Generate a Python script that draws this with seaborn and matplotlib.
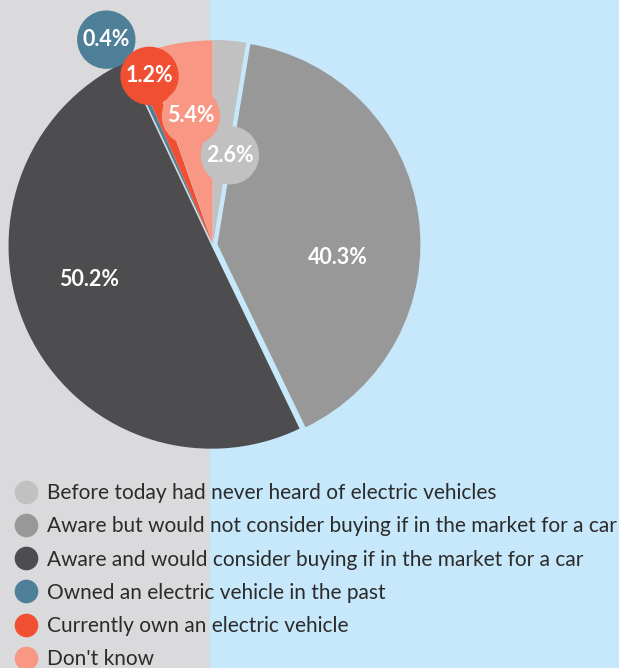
import numpy as np
import matplotlib
matplotlib.use("Agg")
import matplotlib.pyplot as plt
import seaborn as sns
from matplotlib.patches import Rectangle, Circle
from matplotlib.lines import Line2D

# data
categories = [
    "Before today had never heard of electric vehicles",
    "Aware but would not consider buying if in the market for a car",
    "Aware and would consider buying if in the market for a car",
    "Owned an electric vehicle in the past",
    "Currently own an electric vehicle",
    "Don't know",
]
shares = [2.6, 40.3, 50.2, 0.4, 1.2, 5.4]
labels = ["2.6%", "40.3%", "50.2%", "0.4%", "1.2%", "5.4%"]
colors = ["#c1c1c1", "#989898", "#4d4d4f", "#4e7f99", "#f04f32", "#f79784"]

# label placement: radius (pie units), angle nudge from wedge middle, badge or plain
label_r = [0.45, 0.62, 0.635, 1.14, 0.89, 0.645]
label_dang = [-6, -14, -10, 3, -1, 0]
badge = [True, False, False, True, True, True]
explode = [0.01, 0.022, 0.008, 0.008, 0.008, 0.008]

sns.set_theme(style="white")
plt.rcParams["font.family"] = ["Lato", "DejaVu Sans"]

W, H = 619, 668
fig = plt.figure(figsize=(W / 100, H / 100), dpi=100)
split = 210 / W
fig.patches.append(Rectangle((0, 0), split, 1, transform=fig.transFigure,
                             color="#dadadc", zorder=-2))
fig.patches.append(Rectangle((split, 0), 1 - split, 1, transform=fig.transFigure,
                             color="#c6e8fa", zorder=-2))

ax = fig.add_axes([0, 0, 1, 1])
ax.set_facecolor("none")
R = 203
cx, cy = 213, 245

wedges, _ = ax.pie(shares, colors=colors, startangle=90, counterclock=False,
                   explode=explode, wedgeprops=dict(linewidth=0))

for w, lab, r, da, b, col in zip(wedges, labels, label_r, label_dang, badge, colors):
    ang = np.deg2rad((w.theta1 + w.theta2) / 2 + da)
    x, y = r * np.cos(ang), r * np.sin(ang)
    if b:
        ax.add_patch(Circle((x, y), 28.5 / R, color=col, zorder=5))
    ax.text(x, y, lab, ha="center", va="center", color="white",
            fontsize=15.5, fontweight="bold", zorder=6)

ax.set_xlim(-cx / R, (W - cx) / R)
ax.set_ylim(-(H - cy) / R, cy / R)
ax.set_aspect("equal")
ax.axis("off")

handles = [Line2D([], [], marker="o", linestyle="", markersize=16,
                  markerfacecolor=c, markeredgecolor=c) for c in colors]
fig.legend(handles, categories, loc="upper left",
           bbox_to_anchor=(2 / W, 1 - 475 / H), frameon=False,
           fontsize=15, labelspacing=0.63, handletextpad=0.25,
           handlelength=1.5, labelcolor="#2b2b2b", borderaxespad=0)

fig.savefig("out.png", dpi=100)
